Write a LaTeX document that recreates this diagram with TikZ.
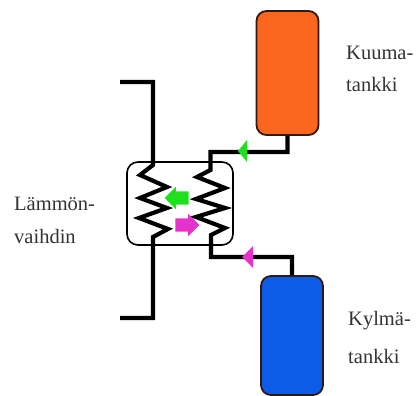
\documentclass[tikz,border=0pt]{standalone}
\usepackage{fontspec}
\setmainfont{Liberation Serif}
\usetikzlibrary{shapes.arrows}
\definecolor{hotfill}{RGB}{250,102,30}
\definecolor{coldfill}{RGB}{12,92,232}
\definecolor{tankedge}{RGB}{50,25,15}
\definecolor{greenarrow}{RGB}{30,225,30}
\definecolor{pinkarrow}{RGB}{228,50,205}
\tikzset{
  tanknode/.style={draw=tankedge,line width=1.8pt,rounded corners=10pt,minimum width=62pt,inner sep=0pt},
  pipe/.style={draw=black,line width=4.2pt,line join=miter},
  labeltext/.style={anchor=west,inner sep=0pt,font=\fontsize{20.5}{20.5}\selectfont,text=black!80},
  blockarrow/.style={single arrow,draw=none,inner sep=0pt,text width=0pt,text height=13pt,text depth=0pt,minimum height=24pt,single arrow head extend=4.5pt,single arrow head indent=0pt},
  tipmark/.style={draw=none}
}
\begin{document}
\begin{tikzpicture}[x=1pt,y=-1pt]
      \useasboundingbox (0,0) rectangle (416,396);
      % tanks and exchanger
      \node[tanknode,fill=hotfill,minimum height=124pt] (hot) at (287.5,73) {};
      \node[tanknode,fill=coldfill,minimum height=119pt] (cold) at (292,335.5) {};
      \node[draw=black,line width=1.6pt,rounded corners=11pt,minimum width=106pt,minimum height=83pt,inner sep=0pt] (vaihdin) at (180,203.5) {};
      % left coil
      \coordinate (lin) at (120,82);
      \coordinate (lout) at (120,318);
      \draw[pipe] (lin) -- (153,82) -- (153,165) -- (140,175) -- (167,187) -- (140,198) -- (167,208)
        -- (139,218) -- (168,229) -- (153,237) -- (153,318) -- (lout);
      % right coil
      \draw[pipe] (hot.south) -- (287.5,152) -- (210.5,152) -- (210.5,170) -- (197,177) -- (225,188) -- (196,199)
        -- (225,208) -- (196,217) -- (225,228) -- (211,235) -- (211,257) -- (292,257) -- (cold.north);
      % flow marks
      \coordinate (greentip) at (238,151);
      \coordinate (pinktip) at (242,257);
      \fill[greenarrow,tipmark] (greentip) -- (247,140) -- (247,162) -- cycle;
      \fill[pinkarrow,tipmark] (pinktip) -- (253,246) -- (253,268) -- cycle;
      \node[blockarrow,fill=greenarrow,shape border rotate=180] (toleft) at (180,198) {};
      \node[blockarrow,fill=pinkarrow] (toright) at (184,225) {};
      % labels
      \node[labeltext] (kuuma) at (346,53) {Kuuma-};
      \node[labeltext] (kuumatank) at (346,84) {tankki};
      \node[labeltext] (kylma) at (348,321) {Kylmä-};
      \node[labeltext] (kylmatank) at (348,356) {tankki};
      \node[labeltext] (lammon) at (14,204) {Lämmön-};
      \node[labeltext] (vaihto) at (14,236) {vaihdin};
    \end{tikzpicture}
\end{document}
